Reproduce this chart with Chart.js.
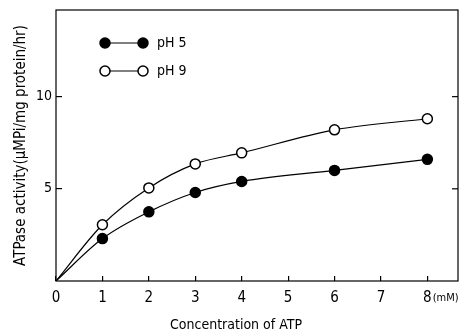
<!DOCTYPE html>
<html>
<head>
<meta charset="utf-8">
<script src="https://cdn.jsdelivr.net/npm/chart.js@4"></script>
<style>
  html, body { margin: 0; padding: 0; background: #fff; }
  #wrap { width: 461px; height: 335px; }
</style>
</head>
<body>
<div id="wrap"><canvas id="chart-atpase"></canvas></div>
<script>
const concentration = [0, 1, 2, 3, 4, 6, 8]
const ph5 = [0, 2.3, 3.75, 4.8, 5.4, 6.0, 6.6]
const ph9 = [0, 3.05, 5.05, 6.35, 6.95, 8.2, 8.8]
const xTicks = [0, 1, 2, 3, 4, 5, 6, 7, 8]
const yTicks = [5, 10]
const seriesLabels = ['pH 5', 'pH 9']

const FONT = '"Liberation Sans Narrow", "DejaVu Sans Condensed", "DejaVu Sans", sans-serif'

const toPoints = (ys) => concentration.map((c, i) => ({ x: c, y: ys[i] }))
const radii = concentration.map(c => (c === 0 ? 0 : 5))

const noPad = (s) => {
  s.paddingTop = 0
  s.paddingBottom = 0
  s.paddingLeft = 0
  s.paddingRight = 0
}

// frame, right ticks, unit, legend and x title
const extrasPlugin = {
  id: 'extras',
  afterDraw(chart) {
    const { ctx, chartArea: a, scales: { x, y } } = chart
    ctx.save()
    ctx.strokeStyle = '#000'
    ctx.lineWidth = 1.2
    ctx.strokeRect(a.left, a.top, a.right - a.left, a.bottom - a.top)
    yTicks.forEach(v => {
      const py = y.getPixelForValue(v)
      ctx.beginPath()
      ctx.moveTo(a.right, py)
      ctx.lineTo(a.right - 6, py)
      ctx.stroke()
    })

    // unit after the last tick label
    ctx.fillStyle = '#000'
    ctx.font = '15px ' + FONT
    const w8 = ctx.measureText('8').width
    ctx.font = '11px ' + FONT
    ctx.textAlign = 'left'
    ctx.textBaseline = 'middle'
    ctx.fillText('(mM)', x.getPixelForValue(8) + w8 / 2 + 1, a.bottom + 17)

    // legend
    const fills = ['#000', '#fff']
    seriesLabels.forEach((lab, i) => {
      const ly = a.top + 33 + i * 28
      const x1 = a.left + 49
      const x2 = a.left + 87
      ctx.lineWidth = 1.2
      ctx.beginPath()
      ctx.moveTo(x1, ly)
      ctx.lineTo(x2, ly)
      ctx.stroke()
      ;[x1, x2].forEach(px => {
        ctx.beginPath()
        ctx.arc(px, ly, 5, 0, Math.PI * 2)
        ctx.fillStyle = fills[i]
        ctx.fill()
        ctx.lineWidth = 1.5
        ctx.stroke()
      })
      ctx.fillStyle = '#000'
      ctx.font = '14px ' + FONT
      ctx.textAlign = 'left'
      ctx.fillText(lab, a.left + 101, ly)
    })

    // x axis title
    ctx.font = '14px ' + FONT
    ctx.textAlign = 'center'
    ctx.fillText('Concentration of ATP', (a.left + a.right) / 2 - 21, a.bottom + 44)
    ctx.restore()
  }
}

const ctx = document.getElementById('chart-atpase').getContext('2d')

const data = {
  datasets: [
    {
      label: seriesLabels[0],
      data: toPoints(ph5),
      borderColor: '#000',
      backgroundColor: '#000',
      pointBackgroundColor: '#000',
      pointBorderColor: '#000',
      pointRadius: radii,
      pointBorderWidth: 1.5,
      borderWidth: 1.2,
      cubicInterpolationMode: 'monotone',
    },
    {
      label: seriesLabels[1],
      data: toPoints(ph9),
      borderColor: '#000',
      backgroundColor: '#fff',
      pointBackgroundColor: '#fff',
      pointBorderColor: '#000',
      pointRadius: radii,
      pointBorderWidth: 1.5,
      borderWidth: 1.2,
      cubicInterpolationMode: 'monotone',
    },
  ],
}

const config = {
  type: 'line',
  data: data,
  options: {
    responsive: true,
    maintainAspectRatio: false,
    animation: false,
    layout: { autoPadding: false, padding: { top: 10, right: 3, left: 0, bottom: 0 } },
    plugins: {
      legend: { display: false },
      tooltip: { enabled: false },
    },
    scales: {
      x: {
        type: 'linear',
        min: 0,
        max: 8.66,
        afterBuildTicks: (s) => { s.ticks = xTicks.map(v => ({ value: v })) },
        afterFit: (s) => { s.height = 54; noPad(s) },
        border: { display: false },
        grid: { drawOnChartArea: false, tickLength: -5, color: '#000', lineWidth: 1.2 },
        ticks: { color: '#000', font: { family: FONT, size: 15 }, padding: 13, maxRotation: 0 },
      },
      y: {
        min: 0,
        max: 14.7,
        afterBuildTicks: (s) => { s.ticks = yTicks.map(v => ({ value: v })) },
        afterFit: (s) => { s.width = 56; noPad(s) },
        border: { display: false },
        grid: { drawOnChartArea: false, tickLength: -6, color: '#000', lineWidth: 1.2 },
        ticks: { color: '#000', font: { family: FONT, size: 14 }, padding: 10 },
        title: {
          display: true,
          text: 'ATPase activity(\u03bcMPi/mg protein/hr)',
          color: '#000',
          font: { family: FONT, size: 15 },
          padding: { top: 12, bottom: 0 },
        },
      },
    },
  },
  plugins: [extrasPlugin],
}

const myChart = new Chart(ctx, config)
</script>
</body>
</html>
